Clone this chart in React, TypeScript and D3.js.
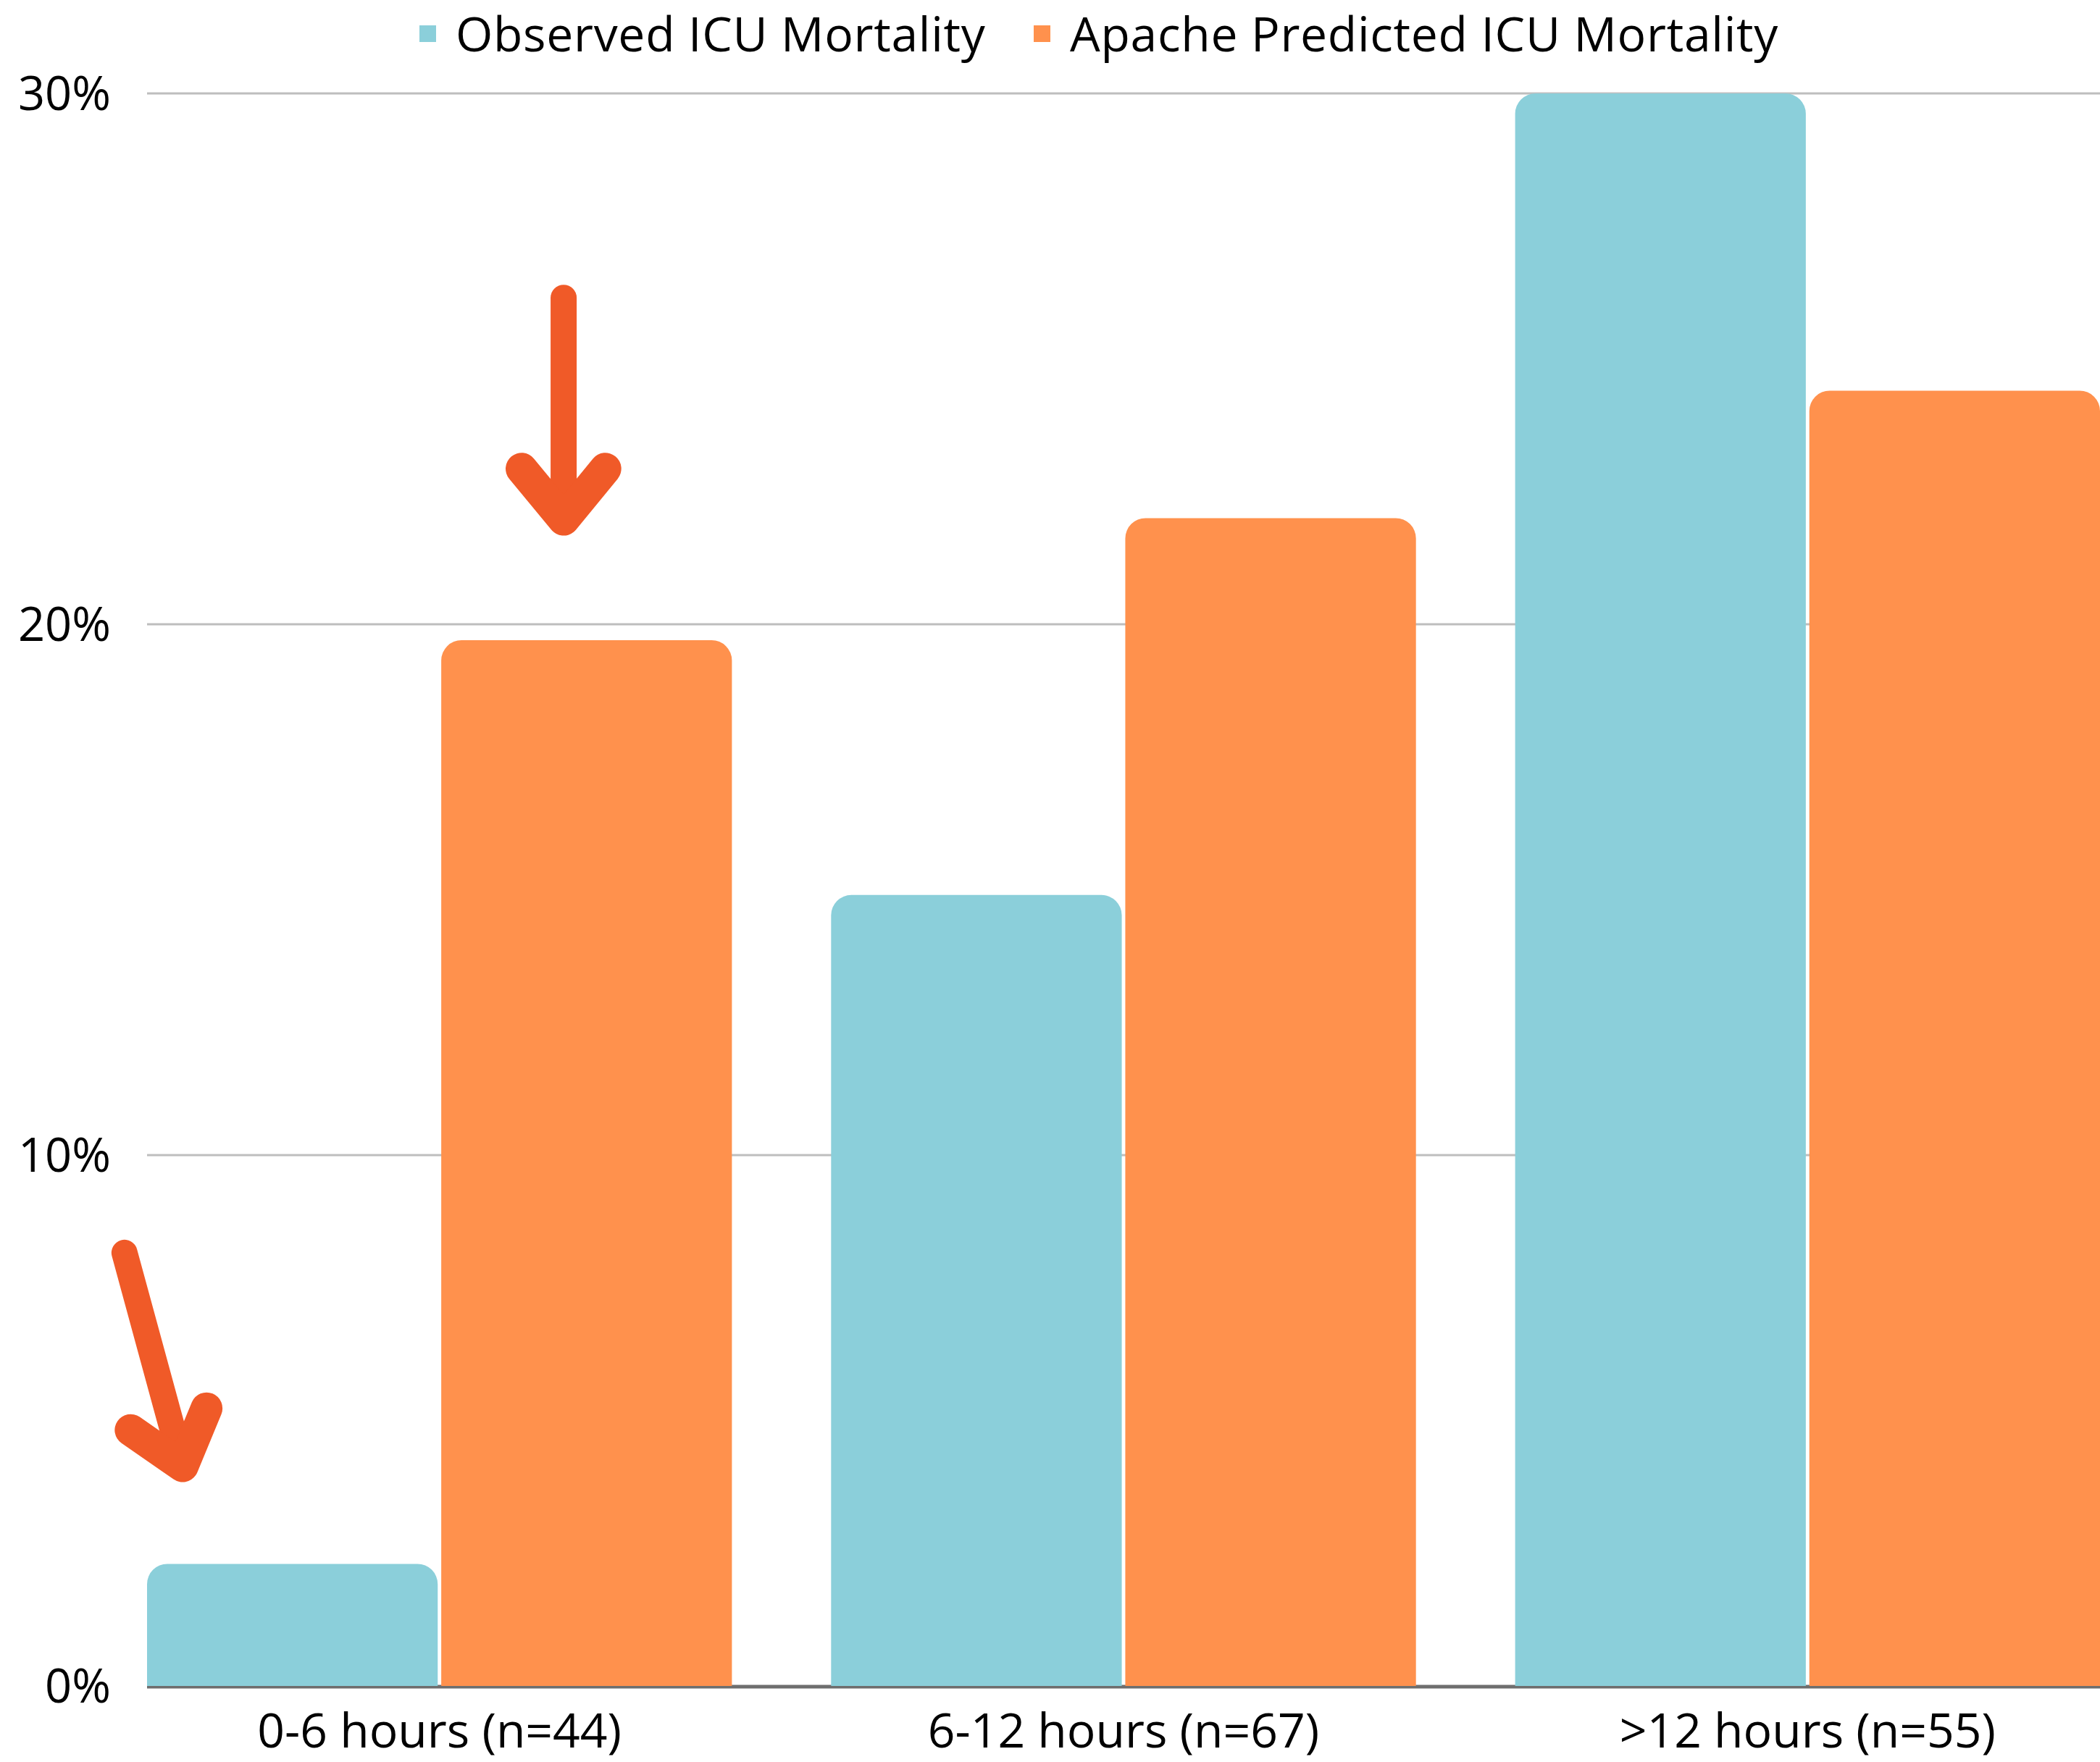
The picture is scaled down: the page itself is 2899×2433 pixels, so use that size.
import React, { useEffect, useRef } from 'react';
import * as d3 from 'd3';

const categories = ['0-6 hours (n=44)', '6-12 hours (n=67)', '>12 hours (n=55)'];
const seriesNames = ['Observed ICU Mortality', 'Apache Predicted ICU Mortality'];
const observed = [2.3, 14.9, 30.0];
const predicted = [19.7, 22.0, 24.4];
const yTicks = [0, 10, 20, 30];
const colors = ['#8BCFDA', '#FF914D'];

// hand-drawn annotation arrows, points given as [band units, percent]
const arrows = [
    { shaft: [[0.609, 26.15], [0.609, 21.97]], head: [[0.5475, 22.93], [0.609, 21.97], [0.670, 22.93]] },
    { shaft: [[-0.033, 8.16], [0.052, 4.14]], head: [[-0.024, 4.82], [0.052, 4.14], [0.087, 5.23]] }
];

const width = 2899;
const height = 2433;
const margin = { top: 129, right: 0, bottom: 105, left: 203 };

function topRoundedRect(x: number, y: number, w: number, h: number, r: number) {
    const rr = Math.min(r, h, w / 2);
    const p = d3.path();
    p.moveTo(x, y + h);
    p.lineTo(x, y + rr);
    p.arcTo(x, y, x + rr, y, rr);
    p.lineTo(x + w - rr, y);
    p.arcTo(x + w, y, x + w, y + rr, rr);
    p.lineTo(x + w, y + h);
    p.closePath();
    return p.toString();
}

const App: React.FC = () => {
    const svgRef = useRef<SVGSVGElement>(null);

    useEffect(() => {
        if (!svgRef.current) return;
        const svg = d3.select(svgRef.current);
        svg.selectAll('*').remove();

        const font = "'Open Sans', 'Noto Sans', sans-serif";

        const x0 = d3.scaleBand<string>()
            .domain(categories)
            .range([margin.left, width - margin.right])
            .paddingInner(0.145)
            .paddingOuter(0);

        const x1 = d3.scaleBand<string>()
            .domain(seriesNames)
            .range([0, x0.bandwidth()])
            .paddingInner(0.012);

        const y = d3.scaleLinear()
            .domain([0, 30])
            .range([height - margin.bottom, margin.top]);

        svg.append('rect')
            .attr('width', width)
            .attr('height', height)
            .attr('fill', '#ffffff');

        // gridlines
        svg.append('g')
            .selectAll('line')
            .data(yTicks.filter(t => t > 0))
            .enter()
            .append('line')
            .attr('x1', margin.left)
            .attr('x2', width - margin.right)
            .attr('y1', d => y(d))
            .attr('y2', d => y(d))
            .attr('stroke', '#BEBEBE')
            .attr('stroke-width', 3);

        // baseline
        svg.append('line')
            .attr('x1', margin.left)
            .attr('x2', width - margin.right)
            .attr('y1', y(0) + 1)
            .attr('y2', y(0) + 1)
            .attr('stroke', '#6E6E6E')
            .attr('stroke-width', 5);

        // y labels
        svg.append('g')
            .selectAll('text')
            .data(yTicks)
            .enter()
            .append('text')
            .attr('x', 153)
            .attr('y', d => y(d))
            .attr('dy', '0.36em')
            .attr('text-anchor', 'end')
            .attr('font-family', font)
            .attr('font-size', 65)
            .attr('fill', '#000')
            .text(d => `${d}%`);

        // bars
        const rows = categories.map((c, i) => ({ cat: c, values: [observed[i], predicted[i]] }));
        const groups = svg.append('g')
            .selectAll('g')
            .data(rows)
            .enter()
            .append('g')
            .attr('transform', d => `translate(${x0(d.cat)},0)`);

        groups.selectAll('path')
            .data(d => d.values.map((v, j) => ({ name: seriesNames[j], value: v, j })))
            .enter()
            .append('path')
            .attr('d', d => topRoundedRect(
                x1(d.name) as number,
                y(d.value),
                x1.bandwidth(),
                y(0) - y(d.value),
                28
            ))
            .attr('fill', d => colors[d.j]);

        // x labels
        svg.append('g')
            .selectAll('text')
            .data(categories)
            .enter()
            .append('text')
            .attr('x', d => (x0(d) as number) + x0.bandwidth() / 2)
            .attr('y', 2413)
            .attr('text-anchor', 'middle')
            .attr('font-family', font)
            .attr('font-size', 66)
            .attr('fill', '#000')
            .text(d => d);

        // legend
        const legendX = [579, 1427];
        const legend = svg.append('g')
            .selectAll('g')
            .data(seriesNames)
            .enter()
            .append('g')
            .attr('transform', (d, i) => `translate(${legendX[i]},0)`);

        legend.append('rect')
            .attr('x', 0)
            .attr('y', 35)
            .attr('width', 23)
            .attr('height', 23)
            .attr('fill', (d, i) => colors[i]);

        legend.append('text')
            .attr('x', 50)
            .attr('y', 71)
            .attr('font-family', font)
            .attr('font-size', 66)
            .attr('letter-spacing', 0.7)
            .attr('fill', '#000')
            .text(d => d);

        // arrows
        const bx = (u: number) => margin.left + u * x0.step();
        const line = d3.line<number[]>()
            .x(d => bx(d[0]))
            .y(d => y(d[1]));

        const arrowG = svg.append('g')
            .attr('fill', 'none')
            .attr('stroke', '#F05A28')
            .attr('stroke-linecap', 'round')
            .attr('stroke-linejoin', 'round');

        arrows.forEach(a => {
            arrowG.append('path').attr('d', line(a.shaft)).attr('stroke-width', 36);
            arrowG.append('path').attr('d', line(a.head)).attr('stroke-width', 44);
        });
    }, []);

    return (
        <svg
            ref={svgRef}
            width={width}
            height={height}
            style={{ position: 'absolute', left: 0, top: 0, display: 'block' }}
        />
    );
};

export default App;
